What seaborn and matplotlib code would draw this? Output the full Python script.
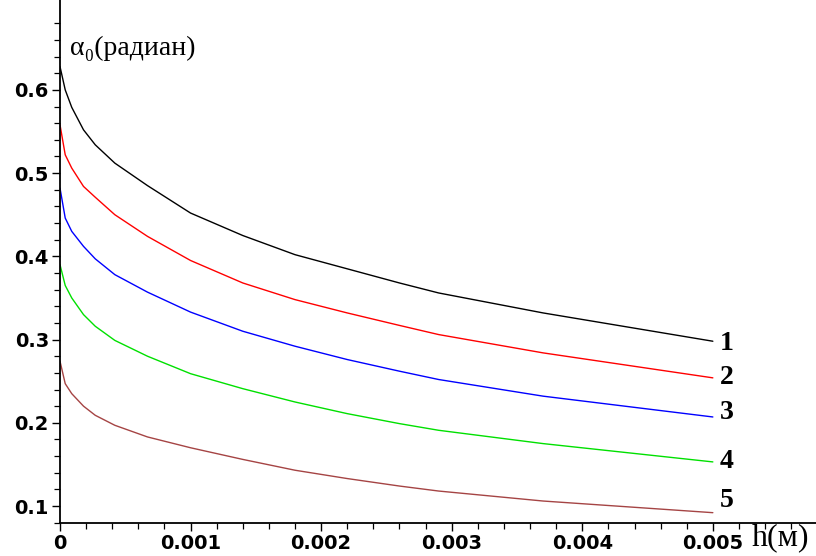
import numpy as np
import pandas as pd
import matplotlib
matplotlib.use("Agg")
import matplotlib.pyplot as plt
import seaborn as sns

# values
h = [0, 0.00004, 0.00009, 0.00018, 0.00027, 0.00042, 0.00067, 0.001,
     0.0014, 0.0018, 0.0022, 0.0026, 0.0029, 0.0037, 0.005]
curve1 = [0.628, 0.600, 0.579, 0.552, 0.534, 0.512, 0.485, 0.452,
          0.425, 0.402, 0.385, 0.368, 0.356, 0.332, 0.298]
curve2 = [0.558, 0.522, 0.506, 0.484, 0.471, 0.450, 0.424, 0.395,
          0.368, 0.348, 0.332, 0.317, 0.306, 0.284, 0.254]
curve3 = [0.482, 0.446, 0.430, 0.412, 0.397, 0.378, 0.357, 0.333,
          0.310, 0.292, 0.276, 0.262, 0.252, 0.232, 0.207]
curve4 = [0.390, 0.365, 0.350, 0.330, 0.316, 0.299, 0.280, 0.259,
          0.241, 0.225, 0.211, 0.199, 0.191, 0.175, 0.153]
curve5 = [0.274, 0.247, 0.235, 0.220, 0.209, 0.197, 0.183, 0.170,
          0.156, 0.143, 0.133, 0.124, 0.118, 0.106, 0.092]
names = ["1", "2", "3", "4", "5"]
colors = ["#000000", "#ff0000", "#0000ff", "#00e000", "#a54444"]

xticks = [0, 0.001, 0.002, 0.003, 0.004, 0.005]
xticklabels = ["0", "0.001", "0.002", "0.003", "0.004", "0.005"]
yticks = [0.1, 0.2, 0.3, 0.4, 0.5, 0.6]
yticklabels = ["0.1", "0.2", "0.3", "0.4", "0.5", "0.6"]

curves = [curve1, curve2, curve3, curve4, curve5]
df = pd.concat(
    [pd.DataFrame({"h": h, "alpha": c, "curve": n}) for n, c in zip(names, curves)],
    ignore_index=True,
)

sns.set_style("ticks")
fig = plt.figure(figsize=(8.16, 5.56), dpi=100)
ax = fig.add_axes([60 / 816, 33 / 556, 1 - 60 / 816, 1 - 33 / 556])

sns.lineplot(data=df, x="h", y="alpha", hue="curve", palette=colors,
             linewidth=1.0, legend=False, ax=ax, sort=False)

ax.set_xlim(0, 0.00579)
ax.set_ylim(0.0796, 0.708)
sns.despine(ax=ax)
for s in ["left", "bottom"]:
    ax.spines[s].set_linewidth(1.3)
    ax.spines[s].set_color("black")

ax.set_xticks(xticks)
ax.set_xticklabels(xticklabels)
ax.set_xticks(np.arange(0, 0.0058, 0.0002), minor=True)
ax.set_yticks(yticks)
ax.set_yticklabels(yticklabels)
ax.set_yticks(np.arange(0.08, 0.70, 0.02), minor=True)
ax.tick_params(which="major", length=6, width=1.0, pad=2, labelsize=14,
               color="black", labelcolor="black")
ax.tick_params(which="minor", length=4, width=0.9, color="black")
for lab in ax.get_xticklabels() + ax.get_yticklabels():
    lab.set_fontweight("bold")
    lab.set_family("DejaVu Sans")

ax.set_xlabel("")
ax.set_ylabel("")

# curve numbers at the right end
offsets = {"1": -1.5, "2": 0.5, "3": 3, "4": 0, "5": 9}
for n, c in zip(names, curves):
    ax.annotate(n, xy=(h[-1], c[-1]), xytext=(5, offsets[n]), textcoords="offset points",
                ha="left", va="center", fontsize=20, fontweight="bold", color="black",
                family=["Liberation Serif", "DejaVu Serif"], annotation_clip=False)

fig.text(70 / 816, 1 - 48 / 556, "α₀(радиан)", fontsize=20, ha="left", va="center",
         color="black", family=["Liberation Serif", "DejaVu Serif"])
fig.text(752 / 816, 1 - 538 / 556, "h(м)", fontsize=23, ha="left", va="center",
         color="black", family=["Liberation Serif", "DejaVu Serif"])

fig.savefig("out.png", dpi=100)
